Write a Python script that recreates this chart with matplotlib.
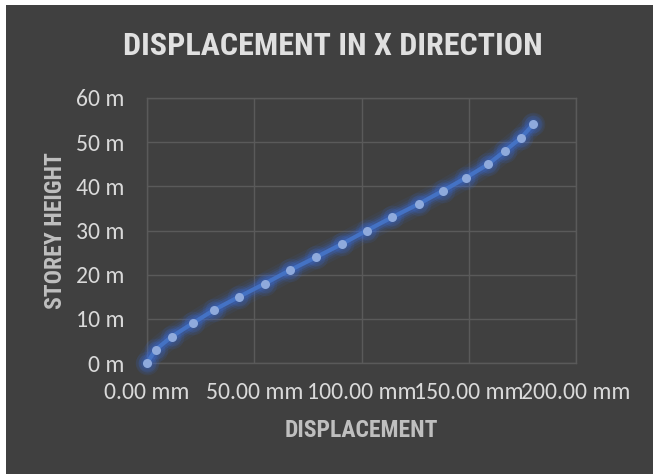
import matplotlib
matplotlib.use("Agg")
import matplotlib.pyplot as plt
from matplotlib.patches import Rectangle
from matplotlib.ticker import FuncFormatter, MultipleLocator

BG = "#404040"; GRID = "#5a5a5a"; TXT = "#d9d9d9"; LAB = "#bfbfbf"
LINE = "#4472c4"; MARK = "#8faadc"
NARROW = ["Roboto Condensed", "DejaVu Sans"]
REG = ["Carlito", "Liberation Sans", "DejaVu Sans"]

# storey displacement (mm) vs height (m)
disp_mm = [0.0, 4.0, 11.6, 21.3, 31.2, 42.9, 55.0, 66.6, 79.0, 91.1,
           102.5, 114.3, 126.6, 138.0, 148.9, 159.0, 166.8, 174.4, 180.0]
height_m = [0, 3, 6, 9, 12, 15, 18, 21, 24, 27,
            30, 33, 36, 39, 42, 45, 48, 51, 54]

fig = plt.figure(figsize=(6.53, 4.74), dpi=100)
fig.patch.set_facecolor("white")
fig.patches.append(Rectangle((6/653, 0), 1, 1 - 5/474, transform=fig.transFigure,
                             facecolor=BG, edgecolor="none", zorder=-10))

ax = fig.add_axes([147/653, 1 - 363/474, (576-147)/653, (363-98)/474])
ax.set_facecolor(BG)

# glow under the series
for lw, a in [(16, 0.07), (12, 0.10), (9, 0.16), (6.5, 0.25)]:
    ax.plot(disp_mm, height_m, color="#3a6ee0", lw=lw, alpha=a, solid_capstyle="round",
            zorder=3, clip_on=False)
for ms, a in [(17, 0.10), (13, 0.16)]:
    ax.plot(disp_mm, height_m, "o", color="#3a6ee0", ms=ms, alpha=a, mec="none",
            zorder=3, clip_on=False)
ax.plot(disp_mm, height_m, color=LINE, lw=3.0, zorder=4, clip_on=False)
ax.plot(disp_mm, height_m, "o", color=MARK, ms=6.5, mec="none", zorder=5, clip_on=False)

ax.set_xlim(0, 200); ax.set_ylim(0, 60)
ax.xaxis.set_major_locator(MultipleLocator(50))
ax.yaxis.set_major_locator(MultipleLocator(10))
ax.xaxis.set_major_formatter(FuncFormatter(lambda v, p: f"{v:.2f} mm"))
ax.yaxis.set_major_formatter(FuncFormatter(lambda v, p: f"{v:.0f} m"))
ax.grid(True, color=GRID, lw=1.0, zorder=1)
for s in ax.spines.values():
    s.set_color(GRID); s.set_linewidth(1.0)
ax.tick_params(length=0, colors=TXT, labelsize=17)
ax.tick_params(axis="x", pad=14)
ax.tick_params(axis="y", pad=16)
for lbl in ax.get_xticklabels() + ax.get_yticklabels():
    lbl.set_family(REG)

ax.set_xlabel("DISPLACEMENT", fontsize=17, fontweight="bold", color=LAB,
              family=NARROW, labelpad=11)
ax.set_ylabel("STOREY HEIGHT", fontsize=17, fontweight="bold", color=LAB,
              family=NARROW, labelpad=7)
fig.text(333/653, 1 - 46/474, "DISPLACEMENT IN X DIRECTION", fontsize=23,
         fontweight="bold", color="#e0e0e0", family=NARROW, ha="center", va="center")

fig.savefig("out.png", dpi=100, facecolor="white")
